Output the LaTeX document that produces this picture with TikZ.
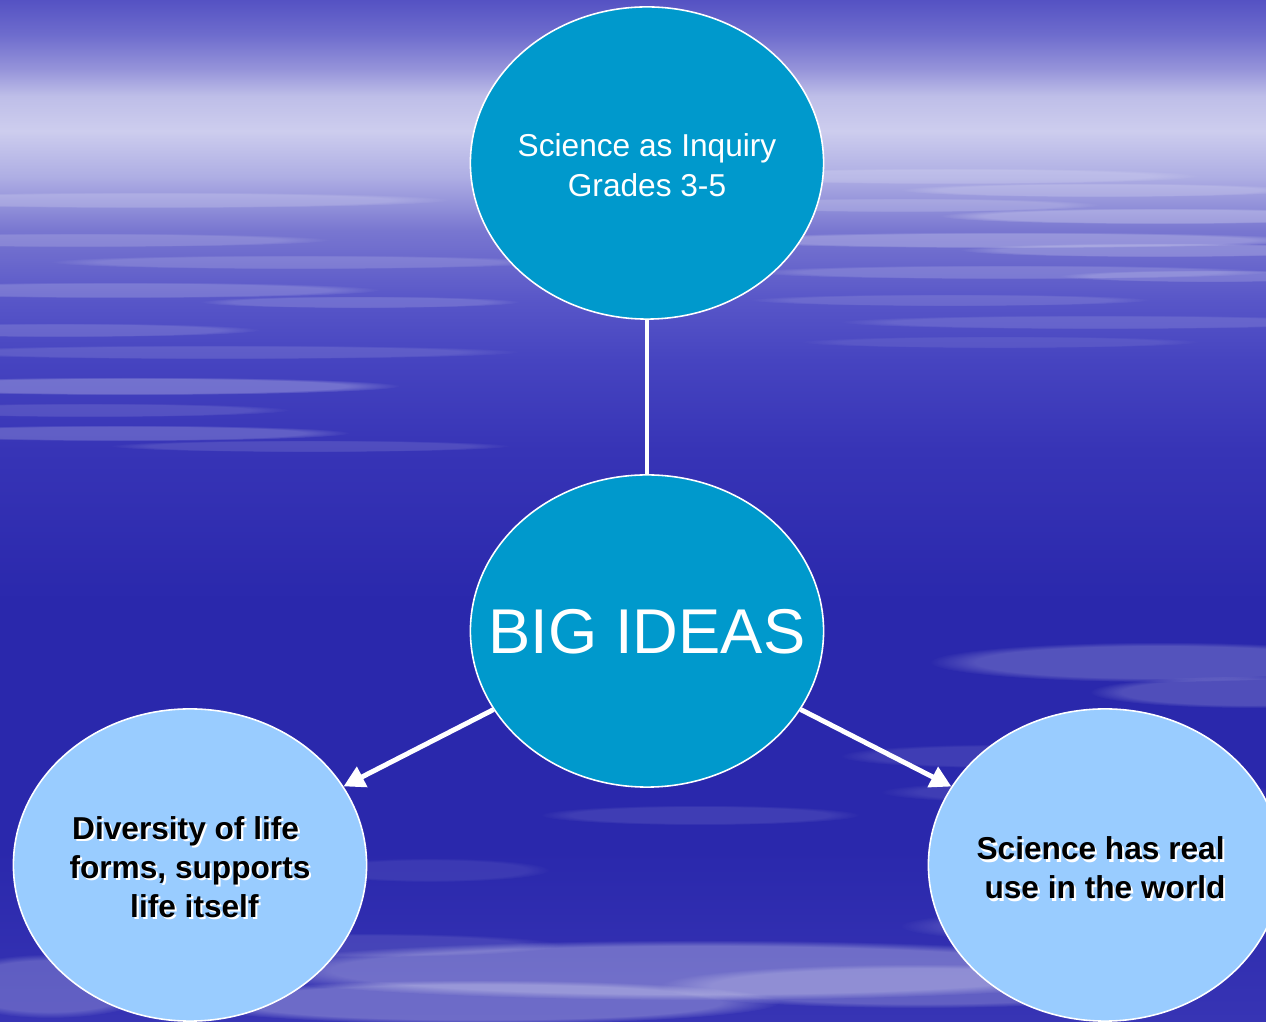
\documentclass[tikz,border=0pt]{standalone}
\usepackage{fontspec}
\setmainfont{Liberation Sans}
\usetikzlibrary{shapes.geometric,arrows.meta,fadings}

% colours of the slide
\definecolor{bubbledark}{RGB}{0,153,204}
\definecolor{bubblelight}{RGB}{153,204,255}

% sky: the path gets the part from 25bp (bottom) to 75bp (top)
\pgfdeclareverticalshading{sky}{100bp}{%
  rgb(0bp)=(0.216,0.204,0.706); rgb(25bp)=(0.216,0.204,0.706);
  rgb(33.4bp)=(0.165,0.157,0.675); rgb(45.6bp)=(0.165,0.157,0.675);
  rgb(53bp)=(0.216,0.204,0.714); rgb(57.4bp)=(0.275,0.267,0.753);
  rgb(60.3bp)=(0.345,0.337,0.784); rgb(63.7bp)=(0.471,0.463,0.816);
  rgb(66.4bp)=(0.686,0.686,0.894); rgb(68.6bp)=(0.804,0.804,0.933);
  rgb(70.3bp)=(0.745,0.745,0.910); rgb(71.6bp)=(0.588,0.580,0.855);
  rgb(73.3bp)=(0.431,0.424,0.804); rgb(75bp)=(0.333,0.322,0.765);
  rgb(100bp)=(0.333,0.322,0.765)}

% bold black text with a white drop shadow
\newcommand{\embossed}[1]{%
  \makebox[0pt][l]{\hspace{0.6pt}\raisebox{-0.6pt}{\textcolor{white}{#1}}}#1}
% centred lines that do not widen the ellipse, set a little low
\newcommand{\bubbletext}[2][0.19em]{%
  \makebox[0pt]{\raisebox{-#1}[\height][\depth]{%
    \begin{tabular}{@{}c@{}}#2\end{tabular}}}}

\tikzset{
  bubble/.style={ellipse, draw=white, line width=0.45pt, inner sep=0pt,
    minimum width=3.53cm, minimum height=3.12cm},
  darkbubble/.style={bubble, fill=bubbledark, text=white},
  lightbubble/.style={bubble, fill=bubblelight, text=black,
    font=\fontsize{9}{11.1}\selectfont\bfseries},
  link/.style={draw=white, line width=1.2pt},
  arrowlink/.style={link, line width=1.4pt,
    -{Triangle[length=0.21cm,width=0.22cm]}},
  streak/.style={fill=white, path fading=circle with fuzzy edge 20 percent}
}

\begin{document}
\begin{tikzpicture}[x=0.01cm, y=-0.01cm]
  % page: 1266 x 1022
  \useasboundingbox (0,0) rectangle (1266,1022);
  \clip (0,0) rectangle (1266,1022);
  \shade[shading=sky] (0,0) rectangle (1266,1022);

  % cloud streaks: x, y, half width, half height, opacity
  \foreach \x/\y/\rx/\ry/\o in {
      150/200/300/8/0.18, 80/240/250/7/0.16, 300/262/250/7/0.15,
      120/290/260/8/0.18, 360/302/160/6/0.15, 60/330/200/7/0.15,
      220/352/300/7/0.12, 130/386/270/9/0.26, 90/410/200/7/0.12,
      120/433/230/8/0.2, 310/446/200/6/0.12,
      950/176/250/8/0.16, 1100/190/200/7/0.18, 900/205/200/7/0.16,
      1160/216/220/8/0.25, 1010/240/300/8/0.24, 1160/250/200/7/0.2,
      1010/272/260/7/0.16, 1210/276/150/6/0.16, 950/300/200/6/0.12,
      1100/322/260/7/0.12, 1000/342/200/6/0.08,
      1160/662/230/20/0.2, 1250/692/160/16/0.18, 1000/756/160/12/0.1,
      1080/792/200/12/0.1, 700/815/160/10/0.1, 430/870/120/12/0.08,
      700/970/460/30/0.3, 480/1002/300/22/0.28, 920/986/260/22/0.22,
      50/986/110/32/0.22, 360/945/200/12/0.1, 1100/926/200/17/0.12}
    \fill[streak, opacity=\o] (\x,\y) ellipse ({\rx} and {\ry});

  % the four ideas
  \node[darkbubble, font=\fontsize{9}{11.4}\selectfont] (inquiry) at (647,163)
    {\bubbletext[0.16em]{Science as Inquiry\\Grades 3-5}};
  \node[darkbubble, font=\fontsize{18}{20}\selectfont] (big) at (647,631)
    {\bubbletext[0.13em]{BIG IDEAS}};
  \node[lightbubble] (diversity) at (190,865)
    {\bubbletext{\embossed{\mbox{Diversity of life\ }}\\
      \embossed{forms, supports}\\\embossed{\mbox{\ life itself}}}};
  \node[lightbubble] (realuse) at (1105,865)
    {\bubbletext[0.21em]{\embossed{\mbox{Science has real\ }}\\
      \embossed{use in the world}}};

  % connectors
  \draw[link] (inquiry) -- (big);
  \draw[arrowlink] (big) -- (diversity);
  \draw[arrowlink] (big) -- (realuse);
\end{tikzpicture}
\end{document}
